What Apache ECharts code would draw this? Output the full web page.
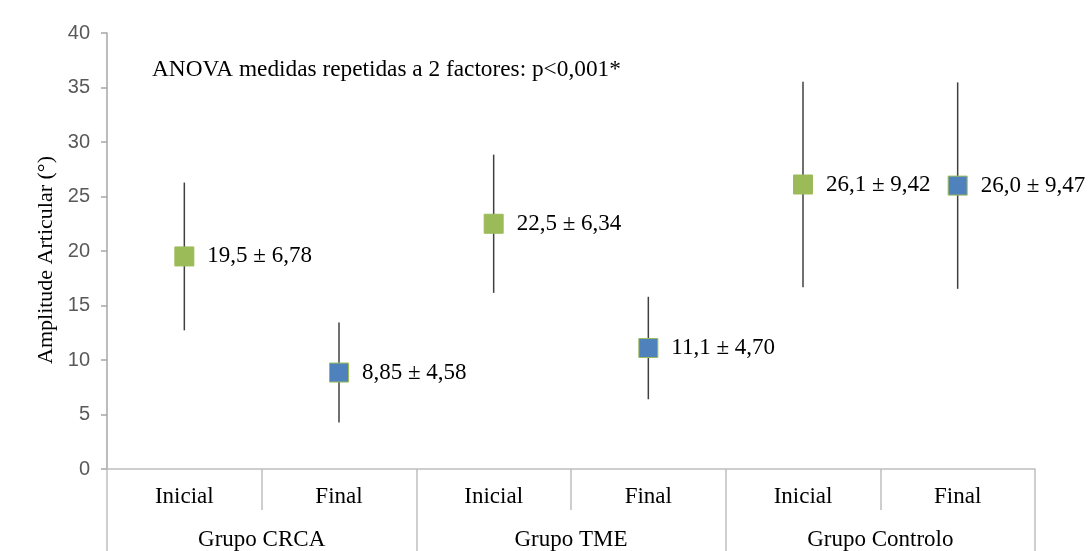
<!DOCTYPE html>
<html><head><meta charset="utf-8">
<script src="https://cdn.jsdelivr.net/npm/echarts@6/dist/echarts.min.js"></script>
<style>html,body{margin:0;padding:0;background:#fff}#c{width:1088px;height:551px}</style>
</head><body><div id="c"></div>
<script>
const categories = ['Inicial','Final','Inicial','Final','Inicial','Final'];
const groups = ['Grupo CRCA','Grupo TME','Grupo Controlo'];
const means = [19.5, 8.85, 22.5, 11.1, 26.1, 26.0];
const sds = [6.78, 4.58, 6.34, 4.70, 9.42, 9.47];
const valueLabels = ['19,5 ± 6,78','8,85 ± 4,58','22,5 ± 6,34','11,1 ± 4,70','26,1 ± 9,42','26,0 ± 9,47'];
const yTicks = [0,5,10,15,20,25,30,35,40];
const annotation = 'ANOVA medidas repetidas a 2 factores: p<0,001*';

const serif = 'Liberation Serif';
const chart = echarts.init(document.getElementById('c'));
const pointData = means.map((m,i)=>({
  value:[i,m],
  itemStyle:{color: i%2===0 ? '#9BBB59' : '#4F81BD', borderColor:'#9BBB59', borderWidth:1, opacity:1}
}));
chart.setOption({
  animation:false,
  title:{text:annotation,left:147,top:53,textStyle:{fontFamily:serif,fontSize:23.3,fontWeight:'normal',color:'#000'}},
  grid:{left:107,right:53,top:33,bottom:82},
  xAxis:[{
    type:'category',data:categories,position:'bottom',boundaryGap:true,
    axisLine:{lineStyle:{color:'#BFBFBF',width:1.5}},
    axisTick:{show:true,interval:0,length:41,lineStyle:{color:'#BFBFBF',width:1.5}},
    axisLabel:{margin:16,fontFamily:serif,fontSize:23,color:'#000',interval:0}
  },{
    type:'category',data:groups,position:'bottom',boundaryGap:true,
    axisLine:{show:false},
    axisTick:{show:true,interval:0,length:90,lineStyle:{color:'#BFBFBF',width:1.5}},
    axisLabel:{margin:59,fontFamily:serif,fontSize:23,color:'#000',interval:0}
  }],
  yAxis:{
    type:'value',min:0,max:40,interval:5,
    name:'Amplitude Articular (°)',nameLocation:'middle',nameGap:43,nameRotate:90,
    nameTextStyle:{fontFamily:serif,fontSize:22,color:'#000',padding:[0,18,0,0]},
    axisLine:{show:true,lineStyle:{color:'#A6A6A6',width:1.5}},
    axisTick:{show:true,length:6,lineStyle:{color:'#A6A6A6',width:1.5}},
    axisLabel:{fontFamily:'Liberation Sans',fontSize:20,color:'#595959',margin:17,
      formatter:v=>yTicks.includes(v)?String(v):''},
    splitLine:{show:false}
  },
  series:[{
    type:'custom',xAxisIndex:0,
    data:means.map((m,i)=>[i,m-sds[i],m+sds[i]]),
    renderItem:(params,api)=>{
      const lo=api.coord([api.value(0),api.value(1)]);
      const hi=api.coord([api.value(0),api.value(2)]);
      return {type:'line',shape:{x1:lo[0],y1:lo[1],x2:hi[0],y2:hi[1]},
        style:{stroke:'#404040',lineWidth:1.5}};
    },
    z:1
  },{
    type:'scatter',xAxisIndex:0,symbol:'rect',symbolSize:19,
    data:pointData,z:3,
    label:{show:true,position:'right',distance:13,fontFamily:serif,fontSize:23,color:'#000',
      formatter:p=>valueLabels[p.dataIndex]}
  }]
});
</script></body></html>
